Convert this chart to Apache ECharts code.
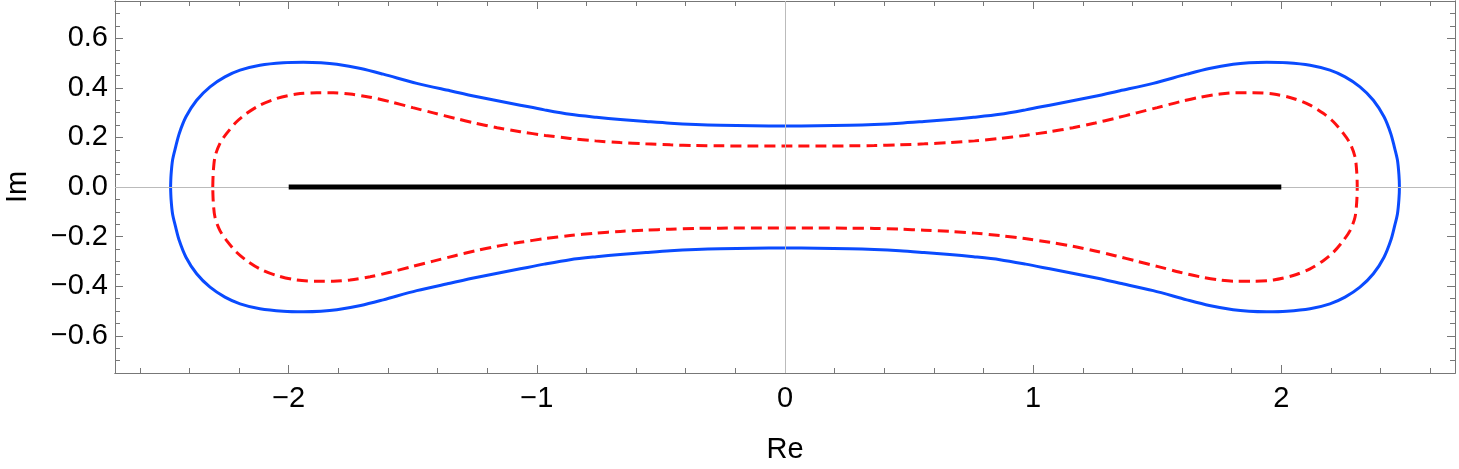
<!DOCTYPE html>
<html>
<head>
<meta charset="utf-8">
<script src="https://cdn.jsdelivr.net/npm/echarts@6/dist/echarts.min.js"></script>
<style>
  html, body { margin: 0; padding: 0; background: #fff; }
  #chart { width: 1459px; height: 469px; }
</style>
</head>
<body>
<div id="chart"></div>
<script>
// outer curve (blue, solid) - upper half, left to right; the lower half is its mirror
var outerX = [-2.476, -2.474, -2.468, -2.456, -2.441, -2.414, -2.371, -2.317, -2.257, -2.196, -2.116, -2.022, -1.941, -1.870, -1.806, -1.710, -1.619, -1.484, -1.350, -1.240, -1.067, -0.970, -0.866, -0.760, -0.664, -0.560, -0.462, -0.360, -0.261, -0.130, 0,
              0.130, 0.261, 0.360, 0.462, 0.560, 0.664, 0.760, 0.866, 0.970, 1.067, 1.240, 1.350, 1.484, 1.619, 1.710, 1.806, 1.870, 1.941, 2.022, 2.116, 2.196, 2.257, 2.317, 2.371, 2.414, 2.441, 2.456, 2.468, 2.474, 2.476];
var outerY = [0, 0.050, 0.109, 0.160, 0.216, 0.283, 0.350, 0.404, 0.444, 0.471, 0.491, 0.501, 0.503, 0.501, 0.495, 0.478, 0.455, 0.418, 0.388, 0.364, 0.330, 0.311, 0.293, 0.281, 0.272, 0.264, 0.257, 0.252, 0.249, 0.2465, 0.246,
              0.2465, 0.249, 0.252, 0.257, 0.264, 0.272, 0.281, 0.293, 0.311, 0.330, 0.364, 0.388, 0.418, 0.455, 0.478, 0.495, 0.501, 0.503, 0.501, 0.491, 0.471, 0.444, 0.404, 0.350, 0.283, 0.216, 0.160, 0.109, 0.050, 0];
// inner curve (red, dashed) - upper half
var innerX = [-2.306, -2.304, -2.297, -2.277, -2.250, -2.210, -2.169, -2.116, -2.048, -1.968, -1.887, -1.820, -1.753, -1.672, -1.592, -1.500, -1.417, -1.330, -1.250, -1.160, -1.067, -0.966, -0.866, -0.764, -0.664, -0.562, -0.462, -0.360, -0.261, -0.130, 0,
              0.130, 0.261, 0.360, 0.462, 0.562, 0.664, 0.764, 0.866, 0.966, 1.067, 1.160, 1.250, 1.330, 1.417, 1.500, 1.592, 1.672, 1.753, 1.820, 1.887, 1.968, 2.048, 2.116, 2.169, 2.210, 2.250, 2.277, 2.297, 2.304, 2.306];
var innerY = [0, 0.060, 0.122, 0.176, 0.216, 0.263, 0.297, 0.330, 0.357, 0.375, 0.380, 0.380, 0.375, 0.362, 0.344, 0.320, 0.299, 0.277, 0.258, 0.239, 0.223, 0.208, 0.196, 0.186, 0.179, 0.174, 0.170, 0.167, 0.166, 0.165, 0.165,
              0.165, 0.166, 0.167, 0.170, 0.174, 0.179, 0.186, 0.196, 0.208, 0.223, 0.239, 0.258, 0.277, 0.299, 0.320, 0.344, 0.362, 0.375, 0.380, 0.380, 0.375, 0.357, 0.330, 0.297, 0.263, 0.216, 0.176, 0.122, 0.060, 0];
// the segment on the real axis
var segX = [-2, 2];
var segY = [0, 0];

var xMajor = [-2, -1, 0, 1, 2];
var yMajor = [-0.6, -0.4, -0.2, 0, 0.2, 0.4, 0.6];
var xMinor = [];
for (var i = -13; i <= 13; i++) xMinor.push(+(i * 0.2).toFixed(1));
var yMinor = [];
for (var j = -15; j <= 15; j++) yMinor.push(+(j * 0.05).toFixed(2));

// closed loop: upper half, then the same points mirrored below
function loop(xs, ys) {
  var pts = xs.map(function (x, k) { return [x, ys[k]]; });
  for (var k = xs.length - 2; k >= 0; k--) pts.push([xs[k], -ys[k]]);
  return pts;
}

var frame = '#777';
var font = '"Liberation Sans", Arial, sans-serif';
function minus(v) { return String(v).replace('-', '\u2212'); }

function xAx(grid, pos, ticks, len, labels) {
  return {
    type: 'value', gridIndex: grid, position: pos, min: -2.7, max: 2.7,
    axisLine: { show: true, onZero: false, lineStyle: { color: frame, width: 1 } },
    axisTick: { show: true, inside: true, length: len, customValues: ticks, lineStyle: { color: frame } },
    axisLabel: { show: labels, customValues: ticks, margin: 11, color: '#000', fontSize: 29, fontFamily: font,
      formatter: function (v) { return minus(v); } },
    splitLine: { show: false },
    name: labels ? 'Re' : '', nameLocation: 'middle', nameGap: 62,
    nameTextStyle: { color: '#000', fontSize: 29, fontFamily: font }
  };
}
function yAx(grid, pos, ticks, len, labels) {
  return {
    type: 'value', gridIndex: grid, position: pos, min: -0.75, max: 0.75,
    axisLine: { show: true, onZero: false, lineStyle: { color: frame, width: 1 } },
    axisTick: { show: true, inside: true, length: len, customValues: ticks, lineStyle: { color: frame } },
    axisLabel: { show: labels, customValues: ticks, margin: 7, color: '#000', fontSize: 29, fontFamily: font,
      formatter: function (v) { return minus(v.toFixed(1)); } },
    splitLine: { show: false },
    name: labels ? 'Im' : '', nameLocation: 'middle', nameGap: 83,
    nameTextStyle: { color: '#000', fontSize: 29, fontFamily: font }
  };
}

var g = { left: 115, right: 4, top: 1, bottom: 96, containLabel: false, outerBoundsMode: 'none' };

var chart = echarts.init(document.getElementById('chart'));
chart.setOption({
  animation: false,
  grid: [Object.assign({}, g), Object.assign({}, g)],
  xAxis: [
    xAx(0, 'bottom', xMajor, 8, true),
    xAx(0, 'top', xMajor, 8, false),
    xAx(1, 'bottom', xMinor, 5, false),
    xAx(1, 'top', xMinor, 5, false)
  ],
  yAxis: [
    yAx(0, 'left', yMajor, 8, true),
    yAx(0, 'right', yMajor, 8, false),
    yAx(1, 'left', yMinor, 5, false),
    yAx(1, 'right', yMinor, 5, false)
  ],
  series: [
    {
      name: 'axes', type: 'line', data: [], xAxisIndex: 0, yAxisIndex: 0,
      markLine: {
        silent: true, symbol: 'none', label: { show: false },
        lineStyle: { color: '#bbb', width: 1, type: 'solid' },
        data: [{ xAxis: 0 }, { yAxis: 0 }]
      }
    },
    {
      name: 'outer', type: 'line', xAxisIndex: 0, yAxisIndex: 0,
      data: loop(outerX, outerY), showSymbol: false, smooth: 0.3,
      lineStyle: { color: '#0a4bff', width: 3, join: 'round' }
    },
    {
      name: 'inner', type: 'line', xAxisIndex: 0, yAxisIndex: 0,
      data: loop(innerX, innerY), showSymbol: false, smooth: 0.3,
      lineStyle: { color: '#ff1010', width: 3, type: [11, 6] }
    },
    {
      name: 'segment', type: 'line', xAxisIndex: 0, yAxisIndex: 0, z: 5,
      data: segX.map(function (x, k) { return [x, segY[k]]; }), showSymbol: false,
      lineStyle: { color: '#000', width: 5, cap: 'butt' }
    }
  ]
});
</script>
</body>
</html>
